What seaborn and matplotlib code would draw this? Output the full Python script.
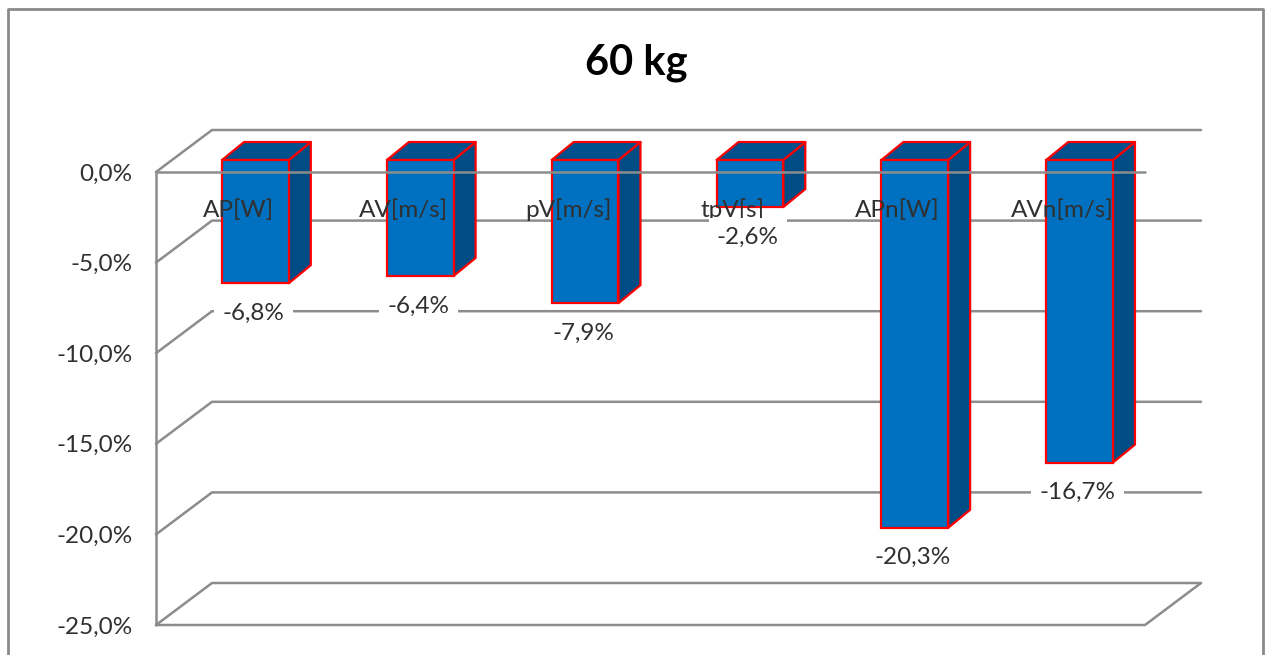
import matplotlib
matplotlib.use("Agg")
import matplotlib.pyplot as plt
import seaborn as sns
from matplotlib.lines import Line2D
from matplotlib.patches import Polygon

title = "60 kg"
categories = ["AP[W]", "AV[m/s]", "pV[m/s]", "tpV[s]", "APn[W]", "AVn[m/s]"]
values = [-6.8, -6.4, -7.9, -2.6, -20.3, -16.7]
y_ticks = [0, -5, -10, -15, -20, -25]

W, H = 1266, 655
FRONT = "#0070C0"
DARK = "#004C85"
TOP = "#00508E"
RED = "#FF0000"
GRID = "#8C8C8C"
TXT = "#303030"
FONT = "Lato"
FS = 17.5

sns.set_theme(style="white", rc={"font.family": FONT})
fig = plt.figure(figsize=(W / 100, H / 100), dpi=100, facecolor="white")
ax = fig.add_axes([156 / W, (H - 625) / H, 989 / W, 453 / H])

PX_X = 6 / 989      # data units per pixel, horizontal
PX_Y = 25 / 453     # data units per pixel, vertical
bar_dx, bar_dy = 17 * PX_X, 12 * PX_Y       # bar front face relative to chart front
dep_x, dep_y = 22 * PX_X, 18 * PX_Y         # bar depth
wall_x, wall_y = 56 * PX_X, 42 * PX_Y       # back wall relative to chart front

sns.barplot(x=categories, y=values, ax=ax, width=0.405, color=FRONT, saturation=1,
            edgecolor=RED, linewidth=1.6, zorder=3)
ax.set_xlim(-0.5, 5.5)
ax.set_ylim(-25, 0)
ax.set_ylabel("")
ax.set_xlabel("")
for s in ax.spines.values():
    s.set_visible(False)
ax.patch.set_alpha(0)

line_kw = dict(color=GRID, lw=1.8, clip_on=False, solid_capstyle="round")
x0, x1 = -0.5, 5.5
# back wall and side wall
for t in y_ticks:
    ax.plot([x0, x0 + wall_x, x1 + wall_x], [t, t + wall_y, t + wall_y], zorder=1, **line_kw)
# left edge, front top edge (drawn over the bars), floor
ax.plot([x0, x0], [0, -25], zorder=1, **line_kw)
ax.plot([x0, x1], [0, 0], zorder=4.5, **line_kw)
ax.plot([x0, x1, x1 + wall_x], [-25, -25, -25 + wall_y], zorder=1, **line_kw)

# 3D faces derived from the seaborn bars
for patch, v in zip(ax.patches, values):
    patch.set_clip_on(False)
    patch.set_x(patch.get_x() + bar_dx)
    patch.set_y(bar_dy)
    l, r = patch.get_x(), patch.get_x() + patch.get_width()
    t, b = bar_dy, bar_dy + v
    edge = dict(edgecolor=RED, linewidth=1.6, clip_on=False, zorder=2.9, joinstyle="round")
    ax.add_patch(Polygon([(r, t), (r + dep_x, t + dep_y), (r + dep_x, b + dep_y), (r, b)],
                         facecolor=DARK, **edge))
    ax.add_patch(Polygon([(l, t), (l + dep_x, t + dep_y), (r + dep_x, t + dep_y), (r, t)],
                         facecolor=TOP, **edge))

# value labels with white boxes that interrupt the lines
for i, v in enumerate(values):
    ax.text(i + bar_dx - 2 * PX_X, v + bar_dy - 30 * PX_Y, f"{v:.1f}%".replace(".", ","),
            ha="center", va="center", fontsize=FS, color=TXT, zorder=6, clip_on=False,
            bbox=dict(facecolor="white", edgecolor="none", boxstyle="square,pad=0.34"))

# axis tick labels
ax.set_yticks(y_ticks)
ax.set_yticklabels([f"{t:.1f}%".replace(".", ",") for t in y_ticks])
ax.tick_params(axis="y", length=0, pad=17, labelsize=FS, labelcolor=TXT)
ax.xaxis.tick_top()
ax.set_xticks(range(len(categories)))
ax.set_xticklabels(categories)
ax.tick_params(axis="x", length=0, pad=-35, labelsize=FS, labelcolor=TXT)
ax.xaxis.set_zorder(5)

fig.text(636 / W, 1 - 63 / H, title, ha="center", va="center", fontsize=30,
         fontweight="bold", color="black")

# chart frame
frame = dict(color="#8A8A8A", lw=2, transform=fig.transFigure)
fig.add_artist(Line2D([8 / W, 8 / W, 1263 / W, 1263 / W],
                      [0, 1 - 9 / H, 1 - 9 / H, 0], **frame))

fig.savefig("out.png", dpi=100, facecolor="white")
